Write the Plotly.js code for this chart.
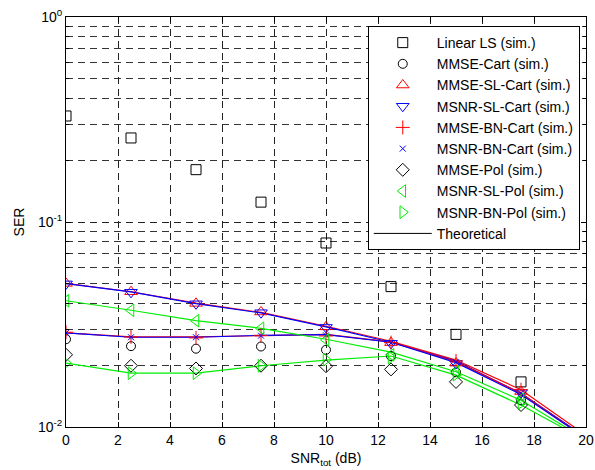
<!DOCTYPE html>
<html>
<head>
<meta charset="utf-8">
<script src="https://cdn.plot.ly/plotly-3.0.1.min.js"></script>
<style>html,body{margin:0;padding:0;background:#fff;}#chart{width:595px;height:470px;}</style>
</head>
<body>
<div id="chart"></div>
<script>
// SNR values (dB)
const snrSim = [0, 2.5, 5, 7.5, 10, 12.5, 15, 17.5];
const snrTheory = [0, 2.5, 5, 7.5, 10, 12.5, 15, 17.5, 20];

// Simulated SER
const linearLS      = [0.329, 0.257, 0.180, 0.125, 0.079, 0.0484, 0.0283, 0.0166];
const mmseCart      = [0.0268, 0.0248, 0.0241, 0.0247, 0.0238, 0.0222, 0.0185, 0.0135];
const mmseSLCart    = [0.0502, 0.0457, 0.0401, 0.0364, 0.0308, 0.0258, 0.0205, 0.0149];
const msnrSLCart    = [0.0499, 0.0454, 0.0399, 0.0361, 0.0306, 0.0256, 0.0204, 0.0147];
const mmseBNCart    = [0.0290, 0.0275, 0.0272, 0.0280, 0.0278, 0.0258, 0.0210, 0.0152];
const msnrBNCart    = [0.0288, 0.0274, 0.0274, 0.0279, 0.0280, 0.0257, 0.0207, 0.0146];
const mmsePol       = [0.0225, 0.0199, 0.0193, 0.0199, 0.0198, 0.0191, 0.0166, 0.0128];
const msnrSLPol     = [0.0413, 0.0371, 0.0330, 0.0303, 0.0266, 0.0225, 0.0186, 0.0137];
const msnrBNPol     = [0.0205, 0.0183, 0.0183, 0.0199, 0.0213, 0.0218, 0.0180, 0.0131];

// Theoretical SER
const thMmseSLCart  = [0.0502, 0.0457, 0.0402, 0.0362, 0.0310, 0.0262, 0.0212, 0.0152, 0.0091];
const thMsnrSLCart  = [0.0500, 0.0456, 0.0400, 0.0360, 0.0308, 0.0259, 0.0210, 0.0146, 0.0089];
const thMmseBNCart  = [0.0288, 0.0275, 0.0275, 0.0280, 0.0283, 0.0260, 0.0208, 0.0146, 0.0088];
const thMsnrBNCart  = [0.0288, 0.0274, 0.0274, 0.0280, 0.0282, 0.0259, 0.0206, 0.0144, 0.0088];
const thMsnrSLPol   = [0.0413, 0.0371, 0.0330, 0.0303, 0.0268, 0.0232, 0.0186, 0.0135, 0.0087];
const thMsnrBNPol   = [0.0205, 0.0183, 0.0183, 0.0199, 0.0212, 0.0222, 0.0179, 0.0128, 0.0086];

const xTicks = [0, 2, 4, 6, 8, 10, 12, 14, 16, 18, 20];
const yMajor = [0.01, 0.1, 1];
const yMajorText = ['10<sup>-2</sup>', '10<sup>-1</sup>', '10<sup>0</sup>'];
const yMinor = [0.02,0.03,0.04,0.05,0.06,0.07,0.08,0.09,0.2,0.3,0.4,0.5,0.6,0.7,0.8,0.9];

function sim(name, y, symbol, color, size) {
  return {x: snrSim, y: y, name: name, mode: 'markers', type: 'scatter',
    marker: {symbol: symbol, color: color, size: size, line: {color: color, width: 1}}};
}
function theo(y, color) {
  return {x: snrTheory, y: y, mode: 'lines', type: 'scatter', showlegend: false,
    line: {color: color, width: 1.2}, hoverinfo: 'skip'};
}

const data = [
  theo(thMmseSLCart, '#ff0000'),
  theo(thMsnrSLCart, '#0000ff'),
  theo(thMmseBNCart, '#ff0000'),
  theo(thMsnrBNCart, '#0000ff'),
  theo(thMsnrSLPol, '#00ee00'),
  theo(thMsnrBNPol, '#00ee00'),
  sim('Linear LS (sim.)', linearLS, 'square-open', '#000000', 10),
  sim('MMSE-Cart (sim.)', mmseCart, 'circle-open', '#000000', 9),
  sim('MMSE-SL-Cart (sim.)', mmseSLCart, 'triangle-up-open', '#ff0000', 11),
  sim('MSNR-SL-Cart (sim.)', msnrSLCart, 'triangle-down-open', '#0000ff', 11),
  sim('MMSE-BN-Cart (sim.)', mmseBNCart, 'cross-thin-open', '#ff0000', 10),
  sim('MSNR-BN-Cart (sim.)', msnrBNCart, 'x-thin-open', '#0000ff', 6),
  sim('MMSE-Pol (sim.)', mmsePol, 'diamond-open', '#000000', 10),
  sim('MSNR-SL-Pol (sim.)', msnrSLPol, 'triangle-left-open', '#00ee00', 11),
  sim('MSNR-BN-Pol (sim.)', msnrBNPol, 'triangle-right-open', '#00ee00', 11),
  {x: [null], y: [null], name: 'Theoretical', mode: 'lines', type: 'scatter',
   line: {color: '#000000', width: 1}}
];

const font = {family: 'Liberation Sans, Arial, Helvetica, sans-serif', size: 14, color: '#000'};

const layout = {
  width: 595, height: 470,
  margin: {l: 66, r: 9, t: 17, b: 43},
  paper_bgcolor: '#fff', plot_bgcolor: '#fff',
  font: font,
  showlegend: true,
  legend: {x: 0.988, y: 0.978, xanchor: 'right', yanchor: 'top',
    bgcolor: '#fff', bordercolor: '#000', borderwidth: 1,
    font: {family: font.family, size: 14, color: '#000'}, itemwidth: 58, tracegroupgap: 0},
  xaxis: {
    range: [0, 20], tickvals: xTicks, ticktext: xTicks.map(String),
    showline: true, mirror: 'ticks', linecolor: '#000', linewidth: 1,
    ticks: 'inside', ticklen: 5, tickcolor: '#000',
    showgrid: true, gridcolor: '#222', griddash: '7px,5px', gridwidth: 1,
    zeroline: false,
    title: {text: 'SNR<sub>tot</sub> (dB)', standoff: 6, font: font},
    automargin: false
  },
  yaxis: {
    type: 'log', range: [-2, 0],
    tickvals: yMajor, ticktext: yMajorText,
    showline: true, mirror: 'ticks', linecolor: '#000', linewidth: 1,
    ticks: 'inside', ticklen: 5, tickcolor: '#000',
    showgrid: true, gridcolor: '#222', griddash: '7px,5px', gridwidth: 1,
    zeroline: false,
    minor: {tickvals: yMinor, ticks: 'inside', ticklen: 3, tickcolor: '#000',
      showgrid: true, gridcolor: '#333', griddash: '7px,5px', gridwidth: 1},
    title: {text: 'SER', standoff: 10, font: font},
    automargin: false
  }
};

Plotly.newPlot('chart', data, layout, {displayModeBar: false, staticPlot: true});
</script>
</body>
</html>
